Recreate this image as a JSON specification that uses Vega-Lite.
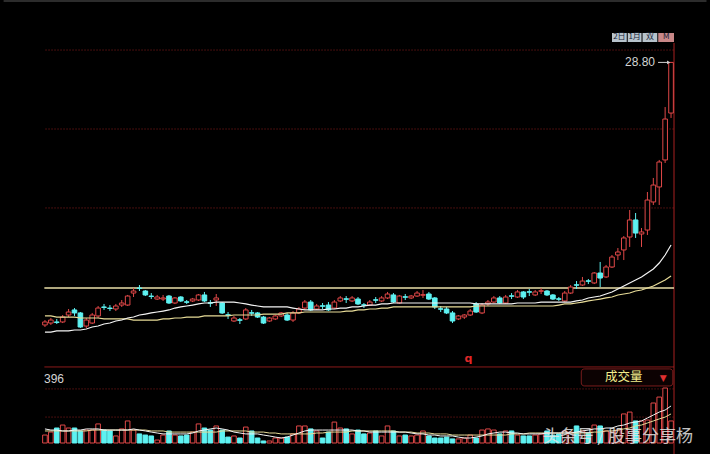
{
"$schema":"https://vega.github.io/schema/vega-lite/v6.json",
"width":642,"height":454,
"autosize":{"type":"none"},
"padding":{"left":37,"right":31,"top":0,"bottom":0},
"background":"#000000",
"config":{"view":{"stroke":null}},
"datasets":{
"k":[
{"t":0,"o":6.92,"h":7.33,"l":6.75,"c":7.17,"v":43,"m1":6.33,"m2":7.67,"a1":76,"a2":65},
{"t":1,"o":7.08,"h":7.5,"l":6.92,"c":7.33,"v":59,"m1":6.33,"m2":7.67,"a1":70,"a2":65},
{"t":2,"o":7.17,"h":7.42,"l":7.0,"c":7.13,"v":81,"m1":6.42,"m2":7.58,"a1":70,"a2":65},
{"t":3,"o":7.17,"h":7.75,"l":7.08,"c":7.58,"v":97,"m1":6.42,"m2":7.58,"a1":65,"a2":65},
{"t":4,"o":7.75,"h":8.25,"l":7.58,"c":8.0,"v":81,"m1":6.42,"m2":7.58,"a1":65,"a2":65},
{"t":5,"o":8.17,"h":8.33,"l":7.67,"c":7.92,"v":81,"m1":6.5,"m2":7.58,"a1":70,"a2":65},
{"t":6,"o":7.92,"h":8.0,"l":6.67,"c":6.75,"v":65,"m1":6.5,"m2":7.5,"a1":70,"a2":65},
{"t":7,"o":6.83,"h":7.5,"l":6.67,"c":7.33,"v":70,"m1":6.58,"m2":7.5,"a1":76,"a2":65},
{"t":8,"o":7.08,"h":7.92,"l":7.0,"c":7.75,"v":70,"m1":6.75,"m2":7.5,"a1":76,"a2":70},
{"t":9,"o":7.67,"h":8.5,"l":7.5,"c":8.33,"v":103,"m1":6.83,"m2":7.5,"a1":76,"a2":70},
{"t":10,"o":8.42,"h":8.67,"l":8.17,"c":8.38,"v":70,"m1":7.0,"m2":7.42,"a1":70,"a2":70},
{"t":11,"o":8.33,"h":8.58,"l":8.08,"c":8.29,"v":65,"m1":7.08,"m2":7.42,"a1":70,"a2":70},
{"t":12,"o":8.25,"h":8.67,"l":8.08,"c":8.5,"v":38,"m1":7.25,"m2":7.42,"a1":70,"a2":70},
{"t":13,"o":8.58,"h":9.0,"l":8.42,"c":8.75,"v":76,"m1":7.33,"m2":7.42,"a1":70,"a2":70},
{"t":14,"o":8.58,"h":9.42,"l":8.5,"c":9.33,"v":119,"m1":7.5,"m2":7.42,"a1":70,"a2":70},
{"t":15,"o":9.58,"h":10.0,"l":9.25,"c":9.75,"v":70,"m1":7.58,"m2":7.33,"a1":76,"a2":70},
{"t":16,"o":10.0,"h":10.25,"l":9.75,"c":9.96,"v":49,"m1":7.75,"m2":7.33,"a1":70,"a2":70},
{"t":17,"o":9.75,"h":9.83,"l":9.33,"c":9.42,"v":43,"m1":7.83,"m2":7.33,"a1":65,"a2":70},
{"t":18,"o":9.33,"h":9.58,"l":9.08,"c":9.29,"v":38,"m1":7.92,"m2":7.33,"a1":59,"a2":65},
{"t":19,"o":9.08,"h":9.42,"l":9.0,"c":9.25,"v":16,"m1":8.0,"m2":7.33,"a1":54,"a2":65},
{"t":20,"o":9.08,"h":9.42,"l":8.92,"c":9.17,"v":43,"m1":8.08,"m2":7.42,"a1":49,"a2":65},
{"t":21,"o":9.33,"h":9.42,"l":8.67,"c":8.75,"v":65,"m1":8.17,"m2":7.42,"a1":49,"a2":59},
{"t":22,"o":8.75,"h":9.25,"l":8.67,"c":9.17,"v":43,"m1":8.33,"m2":7.5,"a1":49,"a2":59},
{"t":23,"o":9.25,"h":9.33,"l":8.83,"c":8.92,"v":38,"m1":8.42,"m2":7.5,"a1":49,"a2":59},
{"t":24,"o":8.85,"h":9.0,"l":8.67,"c":8.81,"v":43,"m1":8.5,"m2":7.58,"a1":49,"a2":59},
{"t":25,"o":8.92,"h":9.17,"l":8.83,"c":9.08,"v":59,"m1":8.58,"m2":7.58,"a1":54,"a2":59},
{"t":26,"o":9.0,"h":9.5,"l":8.92,"c":9.42,"v":103,"m1":8.67,"m2":7.58,"a1":65,"a2":59},
{"t":27,"o":9.42,"h":9.67,"l":8.83,"c":8.92,"v":81,"m1":8.75,"m2":7.67,"a1":70,"a2":59},
{"t":28,"o":8.77,"h":9.0,"l":8.42,"c":8.73,"v":70,"m1":8.75,"m2":7.67,"a1":76,"a2":59},
{"t":29,"o":9.0,"h":9.5,"l":8.5,"c":9.17,"v":92,"m1":8.83,"m2":7.67,"a1":81,"a2":59},
{"t":30,"o":8.75,"h":8.83,"l":7.83,"c":7.92,"v":70,"m1":8.83,"m2":7.67,"a1":76,"a2":65},
{"t":31,"o":7.77,"h":8.0,"l":7.42,"c":7.73,"v":32,"m1":8.83,"m2":7.67,"a1":70,"a2":65},
{"t":32,"o":7.25,"h":7.67,"l":7.17,"c":7.5,"v":38,"m1":8.83,"m2":7.75,"a1":59,"a2":65},
{"t":33,"o":7.35,"h":7.5,"l":7.0,"c":7.31,"v":27,"m1":8.75,"m2":7.75,"a1":54,"a2":65},
{"t":34,"o":7.42,"h":8.33,"l":7.33,"c":8.17,"v":86,"m1":8.67,"m2":7.75,"a1":49,"a2":65},
{"t":35,"o":7.94,"h":8.17,"l":7.67,"c":7.9,"v":65,"m1":8.58,"m2":7.75,"a1":49,"a2":59},
{"t":36,"o":7.92,"h":8.0,"l":7.5,"c":7.58,"v":27,"m1":8.5,"m2":7.75,"a1":49,"a2":59},
{"t":37,"o":7.58,"h":7.67,"l":7.0,"c":7.08,"v":11,"m1":8.42,"m2":7.83,"a1":43,"a2":59},
{"t":38,"o":7.25,"h":7.58,"l":7.17,"c":7.5,"v":11,"m1":8.42,"m2":7.83,"a1":38,"a2":54},
{"t":39,"o":7.42,"h":7.75,"l":7.33,"c":7.67,"v":27,"m1":8.42,"m2":7.83,"a1":32,"a2":54},
{"t":40,"o":7.67,"h":8.0,"l":7.58,"c":7.92,"v":27,"m1":8.42,"m2":7.83,"a1":27,"a2":49},
{"t":41,"o":7.75,"h":7.92,"l":7.25,"c":7.33,"v":32,"m1":8.42,"m2":7.92,"a1":32,"a2":49},
{"t":42,"o":7.33,"h":8.08,"l":7.17,"c":7.92,"v":49,"m1":8.33,"m2":7.92,"a1":43,"a2":49},
{"t":43,"o":7.92,"h":8.42,"l":7.83,"c":8.25,"v":92,"m1":8.25,"m2":7.92,"a1":54,"a2":49},
{"t":44,"o":8.33,"h":9.0,"l":8.17,"c":8.83,"v":92,"m1":8.17,"m2":8.0,"a1":65,"a2":49},
{"t":45,"o":8.83,"h":9.0,"l":8.08,"c":8.17,"v":76,"m1":8.17,"m2":8.0,"a1":70,"a2":49},
{"t":46,"o":8.25,"h":8.67,"l":8.17,"c":8.5,"v":65,"m1":8.17,"m2":8.0,"a1":70,"a2":54},
{"t":47,"o":8.52,"h":8.75,"l":8.25,"c":8.48,"v":27,"m1":8.17,"m2":8.0,"a1":70,"a2":54},
{"t":48,"o":8.58,"h":8.83,"l":8.08,"c":8.17,"v":59,"m1":8.25,"m2":8.0,"a1":70,"a2":59},
{"t":49,"o":8.33,"h":9.0,"l":8.25,"c":8.83,"v":113,"m1":8.25,"m2":8.0,"a1":70,"a2":59},
{"t":50,"o":8.92,"h":9.33,"l":8.83,"c":9.17,"v":81,"m1":8.33,"m2":8.0,"a1":70,"a2":59},
{"t":51,"o":9.1,"h":9.33,"l":8.75,"c":9.06,"v":76,"m1":8.33,"m2":8.08,"a1":70,"a2":59},
{"t":52,"o":8.92,"h":9.33,"l":8.83,"c":9.17,"v":49,"m1":8.42,"m2":8.08,"a1":70,"a2":65},
{"t":53,"o":9.08,"h":9.25,"l":8.58,"c":8.67,"v":70,"m1":8.42,"m2":8.17,"a1":65,"a2":65},
{"t":54,"o":8.6,"h":8.75,"l":8.33,"c":8.56,"v":49,"m1":8.5,"m2":8.17,"a1":65,"a2":65},
{"t":55,"o":8.58,"h":9.0,"l":8.5,"c":8.83,"v":54,"m1":8.58,"m2":8.25,"a1":59,"a2":65},
{"t":56,"o":9.02,"h":9.25,"l":8.75,"c":8.98,"v":65,"m1":8.58,"m2":8.25,"a1":59,"a2":65},
{"t":57,"o":8.92,"h":9.33,"l":8.83,"c":9.17,"v":38,"m1":8.67,"m2":8.33,"a1":59,"a2":65},
{"t":58,"o":9.17,"h":9.67,"l":9.08,"c":9.5,"v":92,"m1":8.67,"m2":8.33,"a1":59,"a2":65},
{"t":59,"o":9.42,"h":9.58,"l":8.75,"c":8.83,"v":65,"m1":8.75,"m2":8.42,"a1":59,"a2":65},
{"t":60,"o":8.75,"h":9.42,"l":8.67,"c":9.33,"v":38,"m1":8.75,"m2":8.42,"a1":59,"a2":59},
{"t":61,"o":9.27,"h":9.5,"l":9.0,"c":9.23,"v":43,"m1":8.75,"m2":8.42,"a1":59,"a2":59},
{"t":62,"o":9.17,"h":9.42,"l":9.08,"c":9.33,"v":38,"m1":8.75,"m2":8.42,"a1":54,"a2":59},
{"t":63,"o":9.33,"h":9.75,"l":9.25,"c":9.58,"v":43,"m1":8.75,"m2":8.42,"a1":49,"a2":54},
{"t":64,"o":9.4,"h":9.83,"l":9.17,"c":9.44,"v":65,"m1":8.75,"m2":8.42,"a1":49,"a2":54},
{"t":65,"o":9.5,"h":9.67,"l":9.0,"c":9.08,"v":38,"m1":8.75,"m2":8.42,"a1":43,"a2":54},
{"t":66,"o":9.17,"h":9.25,"l":8.25,"c":8.42,"v":27,"m1":8.75,"m2":8.42,"a1":43,"a2":49},
{"t":67,"o":8.27,"h":8.5,"l":8.0,"c":8.23,"v":27,"m1":8.75,"m2":8.42,"a1":38,"a2":49},
{"t":68,"o":8.25,"h":8.42,"l":7.83,"c":7.92,"v":32,"m1":8.75,"m2":8.42,"a1":38,"a2":49},
{"t":69,"o":7.92,"h":8.08,"l":7.08,"c":7.25,"v":22,"m1":8.75,"m2":8.42,"a1":38,"a2":43},
{"t":70,"o":7.42,"h":7.75,"l":7.33,"c":7.67,"v":22,"m1":8.75,"m2":8.42,"a1":32,"a2":43},
{"t":71,"o":7.58,"h":7.83,"l":7.42,"c":7.75,"v":27,"m1":8.75,"m2":8.42,"a1":27,"a2":43},
{"t":72,"o":7.75,"h":8.25,"l":7.67,"c":8.08,"v":43,"m1":8.75,"m2":8.42,"a1":27,"a2":43},
{"t":73,"o":8.67,"h":8.83,"l":7.92,"c":8.0,"v":27,"m1":8.67,"m2":8.5,"a1":32,"a2":43},
{"t":74,"o":7.92,"h":8.75,"l":7.83,"c":8.58,"v":70,"m1":8.67,"m2":8.5,"a1":38,"a2":43},
{"t":75,"o":8.67,"h":9.0,"l":8.5,"c":8.83,"v":76,"m1":8.67,"m2":8.5,"a1":49,"a2":43},
{"t":76,"o":8.83,"h":9.33,"l":8.75,"c":9.17,"v":70,"m1":8.67,"m2":8.5,"a1":54,"a2":43},
{"t":77,"o":9.17,"h":9.33,"l":8.67,"c":8.75,"v":49,"m1":8.67,"m2":8.5,"a1":59,"a2":43},
{"t":78,"o":8.75,"h":9.42,"l":8.67,"c":9.25,"v":65,"m1":8.67,"m2":8.5,"a1":59,"a2":43},
{"t":79,"o":9.35,"h":9.58,"l":9.08,"c":9.31,"v":65,"m1":8.67,"m2":8.5,"a1":54,"a2":49},
{"t":80,"o":9.25,"h":9.83,"l":9.17,"c":9.67,"v":43,"m1":8.75,"m2":8.5,"a1":54,"a2":49},
{"t":81,"o":9.67,"h":9.75,"l":9.08,"c":9.25,"v":38,"m1":8.75,"m2":8.5,"a1":49,"a2":49},
{"t":82,"o":9.69,"h":9.92,"l":9.33,"c":9.65,"v":38,"m1":8.75,"m2":8.5,"a1":49,"a2":54},
{"t":83,"o":9.42,"h":9.83,"l":9.33,"c":9.67,"v":43,"m1":8.75,"m2":8.5,"a1":49,"a2":54},
{"t":84,"o":9.73,"h":10.0,"l":9.5,"c":9.77,"v":49,"m1":8.83,"m2":8.5,"a1":49,"a2":54},
{"t":85,"o":9.75,"h":9.83,"l":9.33,"c":9.42,"v":65,"m1":8.83,"m2":8.5,"a1":54,"a2":54},
{"t":86,"o":9.42,"h":9.5,"l":9.0,"c":9.08,"v":43,"m1":8.83,"m2":8.5,"a1":54,"a2":54},
{"t":87,"o":9.1,"h":9.25,"l":8.92,"c":9.06,"v":49,"m1":8.83,"m2":8.58,"a1":54,"a2":54},
{"t":88,"o":8.92,"h":9.75,"l":8.83,"c":9.58,"v":65,"m1":8.83,"m2":8.67,"a1":54,"a2":54},
{"t":89,"o":9.58,"h":10.25,"l":9.5,"c":10.08,"v":59,"m1":8.83,"m2":8.67,"a1":54,"a2":54},
{"t":90,"o":10.27,"h":10.58,"l":9.92,"c":10.23,"v":92,"m1":8.92,"m2":8.75,"a1":59,"a2":54},
{"t":91,"o":10.25,"h":10.92,"l":10.17,"c":10.58,"v":65,"m1":9.0,"m2":8.83,"a1":65,"a2":54},
{"t":92,"o":10.6,"h":10.75,"l":10.33,"c":10.56,"v":54,"m1":9.17,"m2":8.92,"a1":70,"a2":54},
{"t":93,"o":10.42,"h":11.33,"l":10.33,"c":11.25,"v":97,"m1":9.25,"m2":9.0,"a1":76,"a2":59},
{"t":94,"o":11.25,"h":12.17,"l":10.08,"c":10.83,"v":92,"m1":9.33,"m2":9.08,"a1":76,"a2":59},
{"t":95,"o":10.92,"h":11.92,"l":10.83,"c":11.75,"v":65,"m1":9.5,"m2":9.17,"a1":81,"a2":65},
{"t":96,"o":11.75,"h":12.75,"l":11.67,"c":12.58,"v":59,"m1":9.67,"m2":9.25,"a1":81,"a2":65},
{"t":97,"o":12.75,"h":13.33,"l":12.33,"c":13.0,"v":70,"m1":9.92,"m2":9.42,"a1":92,"a2":70},
{"t":98,"o":13.17,"h":14.33,"l":12.33,"c":14.17,"v":157,"m1":10.17,"m2":9.5,"a1":97,"a2":76},
{"t":99,"o":14.25,"h":16.5,"l":13.42,"c":15.67,"v":167,"m1":10.42,"m2":9.58,"a1":108,"a2":81},
{"t":100,"o":15.67,"h":16.25,"l":14.17,"c":14.58,"v":119,"m1":10.67,"m2":9.75,"a1":113,"a2":92},
{"t":101,"o":14.5,"h":15.0,"l":13.42,"c":14.67,"v":119,"m1":10.92,"m2":9.83,"a1":119,"a2":97},
{"t":102,"o":14.83,"h":18.0,"l":14.42,"c":17.33,"v":124,"m1":11.25,"m2":10.0,"a1":135,"a2":108},
{"t":103,"o":17.17,"h":19.17,"l":16.92,"c":18.58,"v":216,"m1":11.58,"m2":10.17,"a1":151,"a2":119},
{"t":104,"o":18.42,"h":20.67,"l":16.92,"c":20.5,"v":248,"m1":12.08,"m2":10.42,"a1":167,"a2":130},
{"t":105,"o":20.67,"h":25.08,"l":20.42,"c":24.08,"v":297,"m1":12.75,"m2":10.67,"a1":178,"a2":140},
{"t":106,"o":24.58,"h":28.8,"l":24.17,"c":28.8,"v":119,"m1":13.58,"m2":11.0,"a1":200,"a2":157}
]},
"layer":[
{"data":{"values":[{"a":-7,"b":112,"p":33.92}]},"mark":{"type":"rule","color":"#2c2c2c","strokeWidth":2},
 "encoding":{"x":{"field":"a","type":"quantitative","scale":{"domain":[-0.5,106.5],"nice":false,"zero":false},"axis":null},"x2":{"field":"b"},
 "y":{"field":"p","type":"quantitative","scale":{"domain":[-3.8333,34],"nice":false,"zero":false},"axis":null}}},
{"data":{"values":[{"a":0.1,"b":106.5,"p":29.83},{"a":0.1,"b":106.5,"p":23.25},{"a":0.1,"b":106.5,"p":16.67}]},"mark":{"type":"rule","color":"#8c1c1c","strokeDash":[1,2],"strokeWidth":1},
 "encoding":{"x":{"field":"a","type":"quantitative","scale":{"domain":[-0.5,106.5],"nice":false,"zero":false},"axis":null},"x2":{"field":"b"},
 "y":{"field":"p","type":"quantitative","scale":{"domain":[-3.8333,34],"nice":false,"zero":false},"axis":null}}},
{"data":{"values":[{"a":-0.1,"b":106.5,"p":3.42}]},"mark":{"type":"rule","color":"#8a1a1a","strokeWidth":1},
 "encoding":{"x":{"field":"a","type":"quantitative","scale":{"domain":[-0.5,106.5],"nice":false,"zero":false},"axis":null},"x2":{"field":"b"},
 "y":{"field":"p","type":"quantitative","scale":{"domain":[-3.8333,34],"nice":false,"zero":false},"axis":null}}},
{"data":{"values":[{"t":106.5,"p1":30.42,"p2":-3.8333}]},"mark":{"type":"rule","color":"#a82020","strokeWidth":1},
 "encoding":{"x":{"field":"t","type":"quantitative","scale":{"domain":[-0.5,106.5],"nice":false,"zero":false},"axis":null},
 "y":{"field":"p1","type":"quantitative","scale":{"domain":[-3.8333,34],"nice":false,"zero":false},"axis":null},"y2":{"field":"p2"}}},
{"data":{"values":[{"a":0.1,"b":106.5,"v":140},{"a":0.1,"b":106.5,"v":292}]},"mark":{"type":"rule","color":"#8c1c1c","strokeDash":[1,2],"strokeWidth":1},
 "encoding":{"x":{"field":"a","type":"quantitative","scale":{"domain":[-0.5,106.5],"nice":false,"zero":false},"axis":null},"x2":{"field":"b"},
 "y":{"field":"v","type":"quantitative","scale":{"domain":[-59.4,2392.2],"nice":false,"zero":false},"axis":null}}},
{"data":{"values":[{"a":-0.1,"b":106.5,"p":10}]},"mark":{"type":"rule","color":"#eadfa8","strokeWidth":1.5},
 "encoding":{"x":{"field":"a","type":"quantitative","scale":{"domain":[-0.5,106.5],"nice":false,"zero":false},"axis":null},"x2":{"field":"b"},
 "y":{"field":"p","type":"quantitative","scale":{"domain":[-3.8333,34],"nice":false,"zero":false},"axis":null}}},
{"data":{"name":"k"},"mark":{"type":"rule","strokeWidth":1},
 "encoding":{"x":{"field":"t","type":"quantitative","scale":{"domain":[-0.5,106.5],"nice":false,"zero":false},"axis":null},
 "y":{"field":"h","type":"quantitative","scale":{"domain":[-3.8333,34],"nice":false,"zero":false},"axis":null},"y2":{"field":"l"},
 "color":{"condition":{"test":"datum.c < datum.o","value":"#5ef2f2"},"value":"#e04848"}}},
{"data":{"name":"k"},"mark":{"type":"bar","width":4.6,"strokeWidth":1},
 "encoding":{"x":{"field":"t","type":"quantitative","scale":{"domain":[-0.5,106.5],"nice":false,"zero":false},"axis":null},
 "y":{"field":"o","type":"quantitative","scale":{"domain":[-3.8333,34],"nice":false,"zero":false},"axis":null},"y2":{"field":"c"},
 "fill":{"condition":{"test":"datum.c < datum.o","value":"#5ef2f2"},"value":"#000000"},
 "stroke":{"condition":{"test":"datum.c < datum.o","value":"#5ef2f2"},"value":"#e04848"}}},
{"data":{"name":"k"},"mark":{"type":"line","color":"#e8dc98","strokeWidth":1.2},
 "encoding":{"x":{"field":"t","type":"quantitative","scale":{"domain":[-0.5,106.5],"nice":false,"zero":false},"axis":null},
 "y":{"field":"m2","type":"quantitative","scale":{"domain":[-3.8333,34],"nice":false,"zero":false},"axis":null}}},
{"data":{"name":"k"},"mark":{"type":"line","color":"#f4f4f4","strokeWidth":1.2},
 "encoding":{"x":{"field":"t","type":"quantitative","scale":{"domain":[-0.5,106.5],"nice":false,"zero":false},"axis":null},
 "y":{"field":"m1","type":"quantitative","scale":{"domain":[-3.8333,34],"nice":false,"zero":false},"axis":null}}},
{"data":{"name":"k"},"mark":{"type":"bar","width":4.6,"strokeWidth":1},
 "encoding":{"x":{"field":"t","type":"quantitative","scale":{"domain":[-0.5,106.5],"nice":false,"zero":false},"axis":null},
 "y":{"field":"v","type":"quantitative","scale":{"domain":[-59.4,2392.2],"nice":false,"zero":false},"axis":null},"y2":{"datum":0},
 "fill":{"condition":{"test":"datum.c < datum.o","value":"#5ef2f2"},"value":"#000000"},
 "stroke":{"condition":{"test":"datum.c < datum.o","value":"#5ef2f2"},"value":"#e04848"}}},
{"data":{"name":"k"},"mark":{"type":"line","color":"#e8dc98","strokeWidth":1},
 "encoding":{"x":{"field":"t","type":"quantitative","scale":{"domain":[-0.5,106.5],"nice":false,"zero":false},"axis":null},
 "y":{"field":"a2","type":"quantitative","scale":{"domain":[-59.4,2392.2],"nice":false,"zero":false},"axis":null}}},
{"data":{"name":"k"},"mark":{"type":"line","color":"#f4f4f4","strokeWidth":1},
 "encoding":{"x":{"field":"t","type":"quantitative","scale":{"domain":[-0.5,106.5],"nice":false,"zero":false},"axis":null},
 "y":{"field":"a1","type":"quantitative","scale":{"domain":[-59.4,2392.2],"nice":false,"zero":false},"axis":null}}},
{"data":{"values":[{"t":106,"p":28.8,"s":"28.80"}]},"mark":{"type":"text","align":"right","baseline":"middle","dx":-16,"fontSize":12,"font":"Liberation Sans","color":"#d4d4d4"},
 "encoding":{"x":{"field":"t","type":"quantitative","scale":{"domain":[-0.5,106.5],"nice":false,"zero":false},"axis":null},
 "y":{"field":"p","type":"quantitative","scale":{"domain":[-3.8333,34],"nice":false,"zero":false},"axis":null},"text":{"field":"s"}}},
{"data":{"values":[{"a":103.8,"b":105.6,"p":28.8}]},"mark":{"type":"rule","color":"#d4d4d4","strokeWidth":1},
 "encoding":{"x":{"field":"a","type":"quantitative","scale":{"domain":[-0.5,106.5],"nice":false,"zero":false},"axis":null},"x2":{"field":"b"},
 "y":{"field":"p","type":"quantitative","scale":{"domain":[-3.8333,34],"nice":false,"zero":false},"axis":null}}},
{"data":{"values":[{"t":105.6,"p":28.8}]},"mark":{"type":"point","shape":"triangle-right","size":14,"filled":true,"color":"#d4d4d4","opacity":1},
 "encoding":{"x":{"field":"t","type":"quantitative","scale":{"domain":[-0.5,106.5],"nice":false,"zero":false},"axis":null},
 "y":{"field":"p","type":"quantitative","scale":{"domain":[-3.8333,34],"nice":false,"zero":false},"axis":null}}},
{"data":{"values":[{"t":71.7,"p":4.08,"s":"q"}]},"mark":{"type":"text","align":"center","baseline":"middle","fontSize":11,"fontWeight":"bold","font":"DejaVu Sans","color":"#e02828"},
 "encoding":{"x":{"field":"t","type":"quantitative","scale":{"domain":[-0.5,106.5],"nice":false,"zero":false},"axis":null},
 "y":{"field":"p","type":"quantitative","scale":{"domain":[-3.8333,34],"nice":false,"zero":false},"axis":null},"text":{"field":"s"}}},
{"data":{"values":[{"x1":96.0,"x2":98.5,"m":97.25,"k":"a","s":"2日"},{"x1":98.67,"x2":101.0,"m":99.83,"k":"a","s":"1月"},{"x1":101.17,"x2":103.67,"m":102.42,"k":"a","s":"双"},{"x1":103.83,"x2":106.5,"m":105.17,"k":"b","s":"M"}]},
 "layer":[
 {"mark":{"type":"rect"},
  "encoding":{"x":{"field":"x1","type":"quantitative","scale":{"domain":[-0.5,106.5],"nice":false,"zero":false},"axis":null},"x2":{"field":"x2"},
  "y":{"datum":31.25,"type":"quantitative","scale":{"domain":[-3.8333,34],"nice":false,"zero":false},"axis":null},"y2":{"datum":30.5},
  "fill":{"field":"k","type":"nominal","scale":{"domain":["a","b"],"range":["#b7c3cc","#c98888"]},"legend":null}}},
 {"mark":{"type":"text","fontSize":8,"font":"Noto Sans CJK SC","color":"#17243a","baseline":"middle"},
  "encoding":{"x":{"field":"m","type":"quantitative","scale":{"domain":[-0.5,106.5],"nice":false,"zero":false},"axis":null},
  "y":{"datum":30.88,"type":"quantitative","scale":{"domain":[-3.8333,34],"nice":false,"zero":false},"axis":null},"text":{"field":"s"}}}
 ]},
{"data":{"values":[{"t":0,"v":346,"s":"396"}]},"mark":{"type":"text","align":"left","baseline":"middle","dx":-1,"fontSize":12,"font":"Liberation Sans","color":"#d4d4d4"},
 "encoding":{"x":{"field":"t","type":"quantitative","scale":{"domain":[-0.5,106.5],"nice":false,"zero":false},"axis":null},
 "y":{"field":"v","type":"quantitative","scale":{"domain":[-59.4,2392.2],"nice":false,"zero":false},"axis":null},"text":{"field":"s"}}},
{"data":{"values":[{"a":90.8,"b":106.3,"v1":400,"v2":308}]},"mark":{"type":"rect","fill":"#0c0202","stroke":"#7a1c1c","strokeWidth":1,"cornerRadius":3},
 "encoding":{"x":{"field":"a","type":"quantitative","scale":{"domain":[-0.5,106.5],"nice":false,"zero":false},"axis":null},"x2":{"field":"b"},
 "y":{"field":"v1","type":"quantitative","scale":{"domain":[-59.4,2392.2],"nice":false,"zero":false},"axis":null},"y2":{"field":"v2"}}},
{"data":{"values":[{"t":98,"v":356,"s":"成交量"}]},"mark":{"type":"text","align":"center","baseline":"middle","fontSize":12.5,"font":"Noto Sans CJK SC","color":"#f2ec8c"},
 "encoding":{"x":{"field":"t","type":"quantitative","scale":{"domain":[-0.5,106.5],"nice":false,"zero":false},"axis":null},
 "y":{"field":"v","type":"quantitative","scale":{"domain":[-59.4,2392.2],"nice":false,"zero":false},"axis":null},"text":{"field":"s"}}},
{"data":{"values":[{"t":104.67,"v":351,"s":"▼"}]},"mark":{"type":"text","align":"center","baseline":"middle","fontSize":9,"font":"DejaVu Sans","color":"#e03030"},
 "encoding":{"x":{"field":"t","type":"quantitative","scale":{"domain":[-0.5,106.5],"nice":false,"zero":false},"axis":null},
 "y":{"field":"v","type":"quantitative","scale":{"domain":[-59.4,2392.2],"nice":false,"zero":false},"axis":null},"text":{"field":"s"}}},
{"data":{"values":[{"t":97.0,"v":32,"s":"头条号 / 股事分享杨"}]},"mark":{"type":"text","align":"center","baseline":"middle","fontSize":17,"font":"Noto Sans CJK SC","color":"#e4e4e4","opacity":0.85},
 "encoding":{"x":{"field":"t","type":"quantitative","scale":{"domain":[-0.5,106.5],"nice":false,"zero":false},"axis":null},
 "y":{"field":"v","type":"quantitative","scale":{"domain":[-59.4,2392.2],"nice":false,"zero":false},"axis":null},"text":{"field":"s"}}}
],
"resolve":{"scale":{"y":"independent"}}
}
